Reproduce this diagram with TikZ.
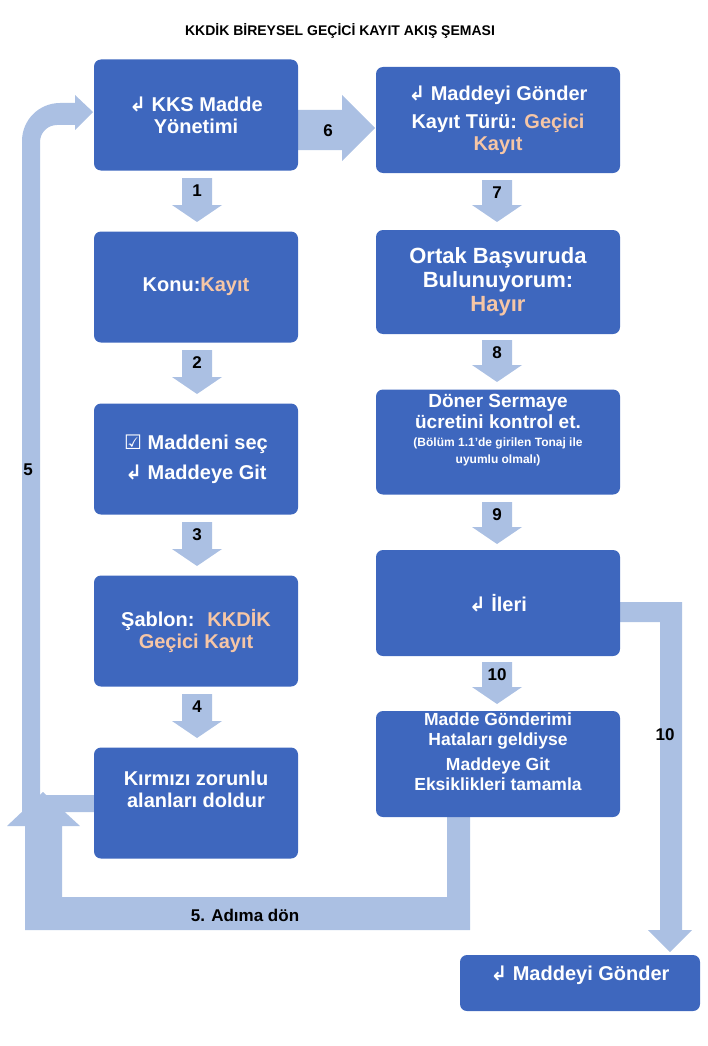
\documentclass[tikz,border=0pt]{standalone}
\usepackage{fontspec}
\setmainfont{Liberation Sans}
\newfontfamily\symf{DejaVu Sans}
\definecolor{boxblue}{HTML}{3E67BE}
\definecolor{lblue}{HTML}{ABC0E3}
\definecolor{peach}{HTML}{F6C6A6}
\newcommand{\ret}{{\symf\symbol{"21B2}}}
\newcommand{\pk}[1]{\textcolor{peach}{#1}}
\newcommand{\dnarr}[4]{%
 \fill[lblue] (#1-15,#2) -- (#1+15,#2) -- (#1+15,#3-17) -- (#1+25,#3-17) -- (#1,#3) -- (#1-25,#3-17) -- (#1-15,#3-17) -- cycle;
 \node[lbl] at (#1,#2+13) {#4};}
\begin{document}
\begin{tikzpicture}[x=1pt,y=-1pt,
  box/.style={fill=boxblue,rounded corners=7pt,text=white,font=\bfseries\fontsize{20}{22}\selectfont,align=center,inner sep=0},
  lbl/.style={font=\bfseries\fontsize{17}{19}\selectfont,text=black}]
\useasboundingbox (0,0) rectangle (708,1046);
\node[font=\bfseries\fontsize{14}{16}\selectfont] (title) at (340,31) {KKDİK BİREYSEL GEÇİCİ KAYIT AKIŞ ŞEMASI};
% connectors (block arrows)
\fill[lblue] (298,110) -- (342,110) -- (342,95) -- (375,128) -- (342,161) -- (342,150) -- (298,150) -- cycle;
\node[lbl] at (328,131) {6};
% left loop 5
\fill[lblue] (95,795) -- (40,795) -- (40,142) arc (180:270:17) -- (75,125) -- (75,130) -- (93,112) -- (75,95) -- (75,103) -- (60,103) arc (270:180:38) -- (22,812) -- (95,812) -- cycle;
\node[lbl] at (28,470) {5};
% bottom loop
\fill[lblue] (447,817) -- (470,817) -- (470,930) -- (25,930) -- (25,826) -- (7,826) -- (43,792) -- (80,826) -- (62,826) -- (62,897) -- (447,897) -- cycle;
\node[lbl] (back) at (245,915) {5. Adıma dön};
% right arrow 10
\fill[lblue] (605,602) -- (682,602) -- (682,930) -- (692,930) -- (670,952) -- (648,930) -- (660,930) -- (660,622) -- (605,622) -- cycle;
\node[lbl] at (665,735) {10};
\dnarr{197}{178}{222}{1}
\dnarr{197}{350}{394}{2}
\dnarr{197}{522}{566}{3}
\dnarr{197}{694}{738}{4}
\dnarr{497}{180}{222}{7}
\dnarr{497}{340}{382}{8}
\dnarr{497}{502}{544}{9}
\dnarr{497}{662}{704}{10}
% boxes
\node[box,minimum width=204pt,minimum height=111pt] (b1) at (196,115) {\ret\ KKS Madde\\Yönetimi};
\node[box,minimum width=204pt,minimum height=111pt] (b2) at (196,287) {Konu:\pk{Kayıt}};
\node[box,minimum width=204pt,minimum height=111pt] (b3) at (196,459) {{\symf\symbol{"2611}} Maddeni seç\\[8pt]\ret\ Maddeye Git};
\node[box,minimum width=204pt,minimum height=111pt] (b4) at (196,631) {Şablon: \ \pk{KKDİK}\\\pk{Geçici Kayıt}};
\node[box,minimum width=204pt,minimum height=111pt] (b5) at (196,803) {Kırmızı zorunlu\\alanları doldur\\[6pt]};
\node[box,minimum width=244pt,minimum height=106pt] (r1) at (498,120) {\ret\ Maddeyi Gönder\\[6pt]Kayıt Türü: \pk{Geçici}\\\pk{Kayıt}};
\node[box,minimum width=244pt,minimum height=104pt,font=\bfseries\fontsize{22}{24}\selectfont] (r2) at (498,282) {Ortak Başvuruda\\Bulunuyorum:\\\pk{Hayır}};
\node[box,minimum width=244pt,minimum height=105pt,font=\bfseries\fontsize{19}{21}\selectfont] (r3) at (498,442) {Döner Sermaye\\ücretini kontrol et.\\[-3pt]{\fontsize{12}{13}\selectfont (Bölüm 1.1'de girilen Tonaj ile}\\[-4pt]{\fontsize{12}{13}\selectfont uyumlu olmalı)}\\[6pt]};
\node[box,minimum width=244pt,minimum height=106pt] (r4) at (498,603) {\ret\ İleri};
\node[box,minimum width=244pt,minimum height=106pt,font=\bfseries\fontsize{17.5}{20}\selectfont] (r5) at (498,764) {Madde Gönderimi\\Hataları geldiyse\\[5pt]Maddeye Git\\Eksiklikleri tamamla\\[4pt]};
\node[box,minimum width=240pt,minimum height=56pt,font=\bfseries\fontsize{20}{22}\selectfont] (r6) at (580,983) {\ret\ Maddeyi Gönder\\[-2pt]};
\end{tikzpicture}
\end{document}
